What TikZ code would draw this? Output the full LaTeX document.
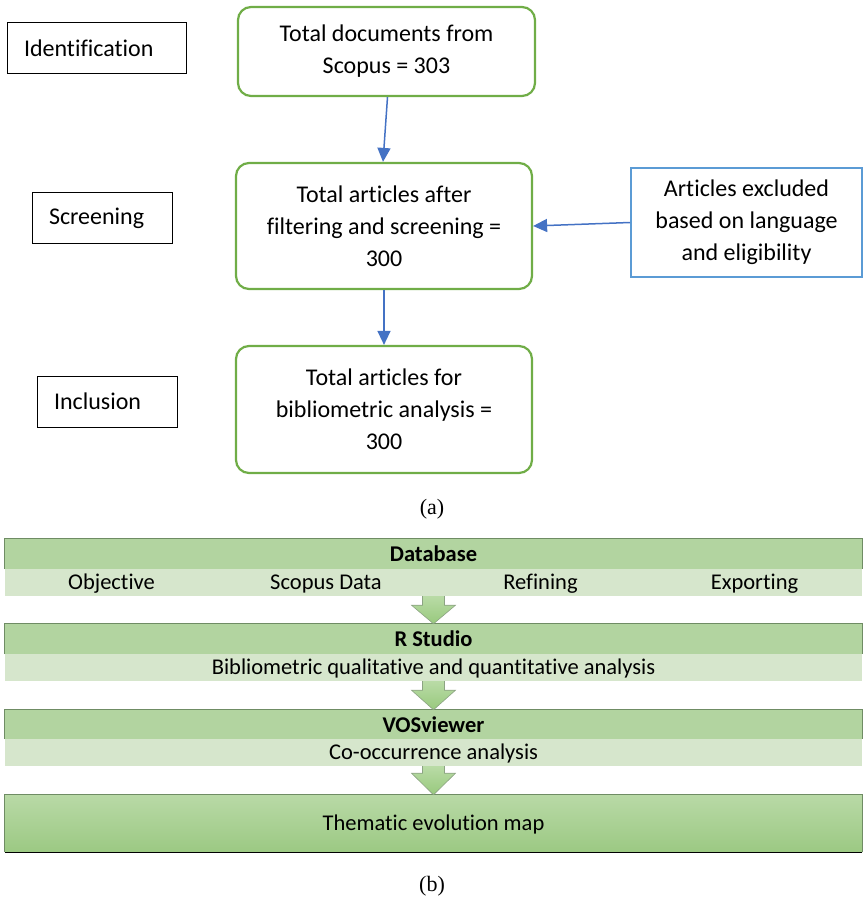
\documentclass[tikz,border=0pt]{standalone}
\usepackage{fontspec}
\setmainfont{Carlito}[RawFeature={-liga;-clig;-calt;-dlig}]
\newfontfamily\capfont{Liberation Serif}
\usetikzlibrary{arrows.meta,calc}
\definecolor{boxgreen}{HTML}{70AD47}
\definecolor{boxblue}{HTML}{5B9BD5}
\definecolor{arrblue}{HTML}{4472C4}
\definecolor{hdrgreen}{HTML}{B2D4A0}
\definecolor{subgreen}{HTML}{D6E6CC}
\definecolor{edgegreen}{HTML}{6F8C64}
\definecolor{arrtop}{HTML}{B9DBA6}
\definecolor{arrbot}{HTML}{98C97D}
\definecolor{lasttop}{HTML}{B8D9A6}
\definecolor{lastbot}{HTML}{9CC983}
\newcommand\blockarr[3]{%
  \shade[top color=arrtop,bottom color=arrbot]
    ($(#1.south)+(-11,0)$) -- ($(#1.south)+(-11,#3)$) -- ($(#1.south)+(-22,#3)$) -- (#2.north)
    -- ($(#1.south)+(22,#3)$) -- ($(#1.south)+(11,#3)$) -- ($(#1.south)+(11,0)$) -- cycle;
  \draw[arredge]
    ($(#1.south)+(-11,0)$) -- ($(#1.south)+(-11,#3)$) -- ($(#1.south)+(-22,#3)$) -- (#2.north)
    -- ($(#1.south)+(22,#3)$) -- ($(#1.south)+(11,#3)$) -- ($(#1.south)+(11,0)$);
}
\newcommand\hdredge[1]{%
  \draw[bandedge] (#1.south west) -- (#1.north west) -- (#1.north east) -- (#1.south east);
}
\begin{document}
\begin{tikzpicture}[x=1pt,y=-1pt,
  stagebox/.style={draw=black, line width=0.8pt, inner xsep=17pt, inner ysep=0pt,
    minimum height=51pt, align=left, font=\fontsize{24}{32}\selectfont},
  countbox/.style={draw=boxgreen, line width=2.2pt, rounded corners=13pt, minimum width=296pt,
    align=center, inner sep=0pt, font=\fontsize{24}{32}\selectfont},
  notebox/.style={draw=boxblue, line width=2pt, minimum width=231pt, minimum height=109pt,
    align=center, inner sep=0pt, font=\fontsize{24}{32}\selectfont},
  flow/.style={draw=arrblue, line width=1.5pt, -{Triangle[length=14pt,width=13pt]}},
  header/.style={fill=hdrgreen, minimum width=857pt, inner sep=0pt, text height=18pt, text depth=3pt,
    font=\fontsize{22.5}{26}\selectfont\bfseries},
  subband/.style={fill=subgreen, minimum width=857pt, inner sep=0pt},
  bandtext/.style={font=\fontsize{22.5}{26}\selectfont, inner sep=0pt, text height=17pt, text depth=4pt},
  bandedge/.style={draw=edgegreen, line width=1pt},
  arredge/.style={draw=edgegreen!80, line width=0.6pt},
  caption/.style={font=\capfont\fontsize{22}{26}\selectfont, inner sep=0pt}]
\useasboundingbox (0,0) rectangle (865,902);

% ---- part (a) ----
\node[stagebox, text width=145pt] (ident) at (96.5,48) {Identification};
\node[stagebox, text width=106pt] (screen) at (102,218) {Screening};
\node[stagebox, text width=106pt] (incl) at (107,401.5) {Inclusion};

\node[countbox, minimum width=297pt, minimum height=89pt] (total) at (386.5,51.5)
  {Total documents from\\Scopus = 303};
\node[countbox, minimum height=126pt] (filt) at (384,226)
  {Total articles after\\filtering and screening =\\300};
\node[countbox, minimum height=127pt] (final) at (384,409.5)
  {Total articles for\\bibliometric analysis =\\300};
\node[notebox] (excl) at (746.5,222.5)
  {Articles excluded\\based on language\\and eligibility};

\draw[flow] ($(total.south)+(1,0)$) -- ($(filt.north)+(-1,0)$);
\draw[flow] (filt.south) -- (final.north);
\draw[flow] (excl.west) -- (filt.east);

\node[caption] (capa) at (432,509) {(a)};

% ---- part (b) ----
\node[header, minimum height=30pt] (h1) at (433.5,554) {Database};
\node[subband, minimum height=27pt] (s1) at (433.5,582.5) {};
\hdredge{h1}
\node[bandtext] (t1) at (111.5,582.5) {Objective};
\node[bandtext] (t2) at (326,582.5) {Scopus Data};
\node[bandtext] (t3) at (540.5,582.5) {Refining};
\node[bandtext] (t4) at (754.5,582.5) {Exporting};

\node[header, minimum height=30pt] (h2) at (433.5,639) {R Studio};
\node[subband, minimum height=27pt] (s2) at (433.5,667.5) {};
\hdredge{h2}
\node[bandtext] (t5) at (433.5,667.5) {Bibliometric qualitative and quantitative analysis};

\node[header, minimum height=29pt] (h3) at (433.5,724.5) {VOSviewer};
\node[subband, minimum height=27pt] (s3) at (433.5,752.5) {};
\hdredge{h3}
\node[bandtext] (t6) at (433.5,752.5) {Co-occurrence analysis};

\node[top color=lasttop, bottom color=lastbot, minimum width=857pt, minimum height=57pt,
  inner sep=0pt, text height=17pt, text depth=4pt, font=\fontsize{22.5}{26}\selectfont] (h4) at (433.5,823.5) {Thematic evolution map};
\hdredge{h4}
\draw[line width=1.2pt] (h4.south west) -- (h4.south east);

\blockarr{s1}{h2}{9}
\blockarr{s2}{h3}{9}
\blockarr{s3}{h4}{7}

\node[caption] (capb) at (432,886) {(b)};
\end{tikzpicture}
\end{document}
